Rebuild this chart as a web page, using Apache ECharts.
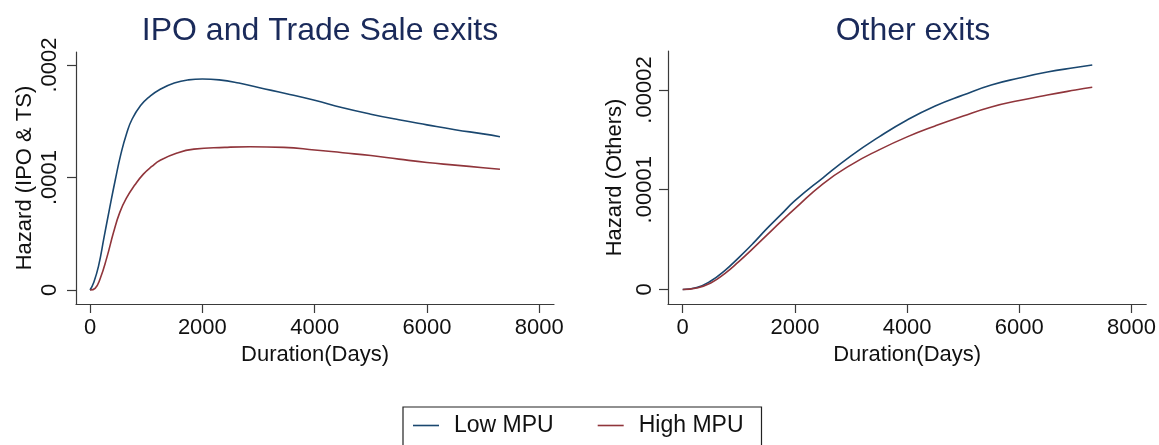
<!DOCTYPE html>
<html>
<head>
<meta charset="utf-8">
<script src="https://cdn.jsdelivr.net/npm/echarts@6/dist/echarts.min.js"></script>
<style>
  html, body { margin: 0; padding: 0; background: #fff; }
  #chart { width: 1159px; height: 445px; }
</style>
</head>
<body>
<div id="chart"></div>
<script>
// ---------- data ----------
const seriesNames = ['Low MPU', 'High MPU'];
const panelTitles = ['IPO and Trade Sale exits', 'Other exits'];
const xAxisTitle = 'Duration(Days)';
const yAxisTitles = ['Hazard (IPO & TS)', 'Hazard (Others)'];

const xTickValues = [0, 2000, 4000, 6000, 8000];
const leftYTickValues = [0, 0.0001, 0.0002];
const leftYTickLabels = ['0', '.0001', '.0002'];
const rightYTickValues = [0, 0.00001, 0.00002];
const rightYTickLabels = ['0', '.00001', '.00002'];

// IPO & Trade Sale panel
const leftLowDays = [0, 60, 150, 250, 350, 450, 550, 650, 750, 900, 1050, 1250, 1500, 1750, 2000, 2300, 2650, 3000, 3500, 4000, 4500, 5000, 5500, 6000, 6500, 7000, 7300];
const leftLowHazard = [0, 0.0000060, 0.0000210, 0.0000470, 0.0000730, 0.0000980, 0.0001210, 0.0001390, 0.0001520, 0.0001640, 0.0001715, 0.0001785, 0.0001840, 0.0001868, 0.0001876, 0.0001868, 0.0001840, 0.0001800, 0.0001745, 0.0001686, 0.0001620, 0.0001563, 0.0001513, 0.0001468, 0.0001425, 0.0001388, 0.0001363];
const leftHighDays = [0, 90, 180, 300, 420, 530, 650, 800, 950, 1100, 1250, 1550, 1850, 2400, 2850, 3450, 4000, 4500, 5000, 5500, 6000, 6500, 7000, 7300];
const leftHighHazard = [0, 0.0000015, 0.0000100, 0.0000290, 0.0000515, 0.0000690, 0.0000818, 0.0000935, 0.0001030, 0.0001098, 0.0001153, 0.0001218, 0.0001252, 0.0001268, 0.0001274, 0.0001268, 0.0001245, 0.0001220, 0.0001195, 0.0001163, 0.0001133, 0.0001110, 0.0001087, 0.0001073];

// Other exits panel
const rightDays = [0, 250, 500, 750, 1000, 1250, 1500, 1750, 2000, 2500, 3000, 3500, 4000, 4500, 5000, 5500, 6000, 6500, 7000, 7300];
const rightLowHazard = [0, 0.00000020, 0.00000085, 0.0000019, 0.0000032, 0.0000046, 0.0000061, 0.0000075, 0.0000089, 0.0000112, 0.0000134, 0.0000153, 0.0000170, 0.0000184, 0.0000195, 0.0000205, 0.0000212, 0.0000218, 0.00002225, 0.0000225];
const rightHighHazard = [0, 0.00000015, 0.00000065, 0.0000016, 0.0000028, 0.0000041, 0.00000545, 0.0000068, 0.0000081, 0.0000106, 0.0000125, 0.0000140, 0.0000153, 0.0000164, 0.0000174, 0.0000183, 0.00001895, 0.0000195, 0.0000200, 0.00002028];

// ---------- styling ----------
const FONT = '"Liberation Sans", Arial, Helvetica, sans-serif';
const BLUE = '#1a476f';
const RED = '#90353b';
const TITLE_COLOR = '#1a2a5a';
const AXIS_COLOR = '#3a3a3a';
const LBL = 22;

function pairs(xs, ys) { return xs.map((x, i) => [x, ys[i]]); }
function lookup(vals, labels) {
  return function (v) {
    for (let i = 0; i < vals.length; i++) {
      if (Math.abs(v - vals[i]) <= Math.abs(vals[vals.length - 1]) * 1e-6) return labels[i];
    }
    return '';
  };
}

function xAxisDef(gridIndex, min, max) {
  return {
    type: 'value', gridIndex, min, max,
    name: xAxisTitle, nameLocation: 'middle', nameGap: 40,
    nameTextStyle: { fontFamily: FONT, fontSize: LBL, color: '#111' },
    axisLine: { show: true, onZero: false, lineStyle: { color: AXIS_COLOR, width: 1.2 } },
    axisTick: { show: true, length: 9, customValues: xTickValues, lineStyle: { color: AXIS_COLOR, width: 1.2 } },
    axisLabel: { customValues: xTickValues, margin: 13, fontFamily: FONT, fontSize: LBL, color: '#111',
      formatter: v => String(Math.round(v)) },
    splitLine: { show: false }
  };
}
function yAxisDef(gridIndex, min, max, vals, labels, name, labelMargin, nameGap) {
  return {
    type: 'value', gridIndex, min, max,
    name, nameLocation: 'middle', nameGap, nameRotate: 90,
    nameTextStyle: { fontFamily: FONT, fontSize: LBL, color: '#111' },
    axisLine: { show: true, onZero: false, lineStyle: { color: AXIS_COLOR, width: 1.2 } },
    axisTick: { show: true, length: 9, customValues: vals, lineStyle: { color: AXIS_COLOR, width: 1.2 } },
    axisLabel: { customValues: vals, rotate: 90, margin: labelMargin, fontFamily: FONT, fontSize: LBL, color: '#111',
      formatter: lookup(vals, labels) },
    splitLine: { show: false }
  };
}
function lineSeries(name, xi, yi, data, color) {
  return {
    name, type: 'line', xAxisIndex: xi, yAxisIndex: yi, data,
    showSymbol: false, symbol: 'none', smooth: true,
    lineStyle: { color, width: 1.6 }, itemStyle: { color },
    animation: false
  };
}

const chart = echarts.init(document.getElementById('chart'), null, { renderer: 'canvas' });
chart.setOption({
  backgroundColor: '#ffffff',
  animation: false,
  title: [
    { text: panelTitles[0], left: 315, top: 10, textAlign: 'center',
      textStyle: { fontFamily: FONT, fontSize: 32, fontWeight: 'normal', color: TITLE_COLOR } },
    { text: panelTitles[1], left: 908, top: 10, textAlign: 'center',
      textStyle: { fontFamily: FONT, fontSize: 32, fontWeight: 'normal', color: TITLE_COLOR } }
  ],
  legend: {
    data: seriesNames,
    left: 403, top: 407,
    orient: 'horizontal',
    icon: 'rect', itemWidth: 26, itemHeight: 1.6, itemGap: 44,
    padding: [7, 18, 24, 10],
    borderColor: '#222', borderWidth: 1.2,
    textStyle: { fontFamily: FONT, fontSize: 23, color: '#111', padding: [0, 0, 0, 10] }
  },
  grid: [
    { left: 76, top: 52, width: 478, height: 252 },
    { left: 668, top: 51, width: 479, height: 253 }
  ],
  xAxis: [
    xAxisDef(0, -250, 8262),
    xAxisDef(1, -262, 8262)
  ],
  yAxis: [
    yAxisDef(0, -0.00001244, 0.00021156, leftYTickValues, leftYTickLabels, yAxisTitles[0], 15, 40),
    yAxisDef(1, -0.000001454, 0.00002391, rightYTickValues, rightYTickLabels, yAxisTitles[1], 12, 42)
  ],
  series: [
    lineSeries(seriesNames[0], 0, 0, pairs(leftLowDays, leftLowHazard), BLUE),
    lineSeries(seriesNames[1], 0, 0, pairs(leftHighDays, leftHighHazard), RED),
    lineSeries(seriesNames[0], 1, 1, pairs(rightDays, rightLowHazard), BLUE),
    lineSeries(seriesNames[1], 1, 1, pairs(rightDays, rightHighHazard), RED)
  ]
});
</script>
</body>
</html>
